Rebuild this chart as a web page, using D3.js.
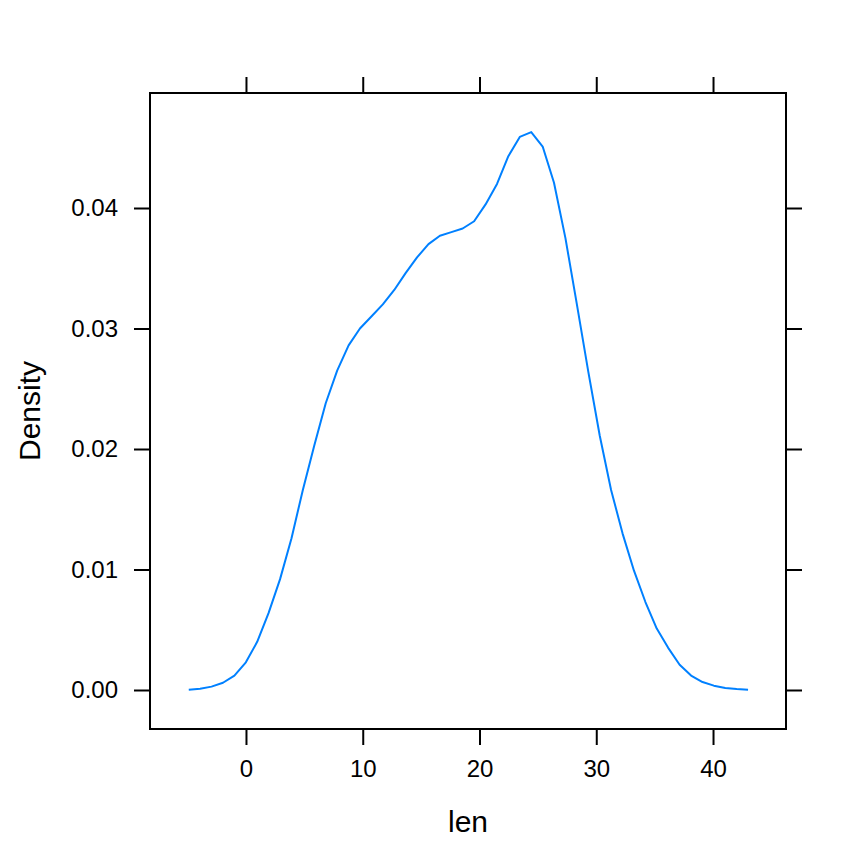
<!DOCTYPE html>
<html>
<head>
<meta charset="utf-8">
<script src="https://cdn.jsdelivr.net/npm/d3@7"></script>
<style>
  html, body { margin: 0; padding: 0; background: #ffffff; }
  svg { display: block; }
  text { font-family: "Liberation Sans", Arial, Helvetica, sans-serif; fill: #000; }
</style>
</head>
<body>
<svg id="chart" width="864" height="864"></svg>
<script>
// ---- data ----
const lenX = [-4.90, -3.93, -2.95, -1.97, -0.99, -0.01, 0.96, 1.94, 2.92, 3.90,
  4.87, 5.85, 6.83, 7.81, 8.79, 9.76, 10.74, 11.72, 12.70, 13.67,
  14.65, 15.63, 16.61, 17.59, 18.56, 19.54, 20.52, 21.50, 22.47, 23.45,
  24.43, 25.41, 26.38, 27.36, 28.34, 29.32, 30.30, 31.27, 32.25, 33.23,
  34.21, 35.18, 36.16, 37.14, 38.12, 39.10, 40.07, 41.05, 42.03, 43.00];
const densityY = [0.00003, 0.0001, 0.00028, 0.0006, 0.0012, 0.0023, 0.0040, 0.0064, 0.0092, 0.0126,
  0.0166, 0.0203, 0.0238, 0.0265, 0.0286, 0.0300, 0.0310, 0.0320, 0.0332, 0.0346,
  0.0359, 0.0370, 0.0377, 0.0380, 0.0383, 0.0389, 0.0403, 0.0420, 0.0443, 0.0459,
  0.0463, 0.0451, 0.0421, 0.0375, 0.0320, 0.0264, 0.0211, 0.0166, 0.0130, 0.0099,
  0.0073, 0.0051, 0.0035, 0.0021, 0.0012, 0.00066, 0.00036, 0.00017, 0.00008, 0.00003];
const xTicks = [0, 10, 20, 30, 40];
const yTicks = [0.00, 0.01, 0.02, 0.03, 0.04];
const xLabel = "len";
const yLabel = "Density";

// ---- layout ----
const panel = { left: 150, right: 786, top: 93, bottom: 729 };
const svg = d3.select("#chart");

const x = d3.scaleLinear().domain([-8.22, 46.25]).range([panel.left, panel.right]);
const y = d3.scaleLinear().domain([-0.003237, 0.049544]).range([panel.bottom, panel.top]);

function styleAxis(g, labels) {
  g.select(".domain").remove();
  g.selectAll(".tick line").attr("stroke", "#000").attr("stroke-width", 2);
  g.selectAll(".tick text").attr("font-size", 24)
    .style("font-family", '"Liberation Sans", Arial, Helvetica, sans-serif');
  if (!labels) g.selectAll(".tick text").remove();
}

// bottom axis (labelled)
svg.append("g").attr("transform", `translate(0,${panel.bottom})`)
  .call(d3.axisBottom(x).tickValues(xTicks).tickSize(16).tickSizeOuter(0).tickPadding(15).tickFormat(d3.format("d")))
  .call(g => styleAxis(g, true));
// top axis (ticks only)
svg.append("g").attr("transform", `translate(0,${panel.top})`)
  .call(d3.axisTop(x).tickValues(xTicks).tickSize(16).tickSizeOuter(0))
  .call(g => styleAxis(g, false));
// left axis (labelled)
svg.append("g").attr("transform", `translate(${panel.left},0)`)
  .call(d3.axisLeft(y).tickValues(yTicks).tickSize(16).tickSizeOuter(0).tickPadding(16).tickFormat(d3.format(".2f")))
  .call(g => styleAxis(g, true));
// right axis (ticks only)
svg.append("g").attr("transform", `translate(${panel.right},0)`)
  .call(d3.axisRight(y).tickValues(yTicks).tickSize(16).tickSizeOuter(0))
  .call(g => styleAxis(g, false));

// panel border
svg.append("rect")
  .attr("x", panel.left).attr("y", panel.top)
  .attr("width", panel.right - panel.left).attr("height", panel.bottom - panel.top)
  .attr("fill", "none").attr("stroke", "#000").attr("stroke-width", 2);

// density line
const pts = lenX.map((v, i) => [v, densityY[i]]);
const line = d3.line().x(d => x(d[0])).y(d => y(d[1]));
svg.append("path").datum(pts)
  .attr("d", line)
  .attr("fill", "none")
  .attr("stroke", "#0080ff")
  .attr("stroke-width", 2)
  .attr("stroke-linejoin", "round");

// axis titles
svg.append("text")
  .attr("x", (panel.left + panel.right) / 2).attr("y", 832)
  .attr("text-anchor", "middle").attr("font-size", 30)
  .text(xLabel);
svg.append("text")
  .attr("transform", `translate(40,${(panel.top + panel.bottom) / 2}) rotate(-90)`)
  .attr("text-anchor", "middle").attr("font-size", 30)
  .text(yLabel);
</script>
</body>
</html>
